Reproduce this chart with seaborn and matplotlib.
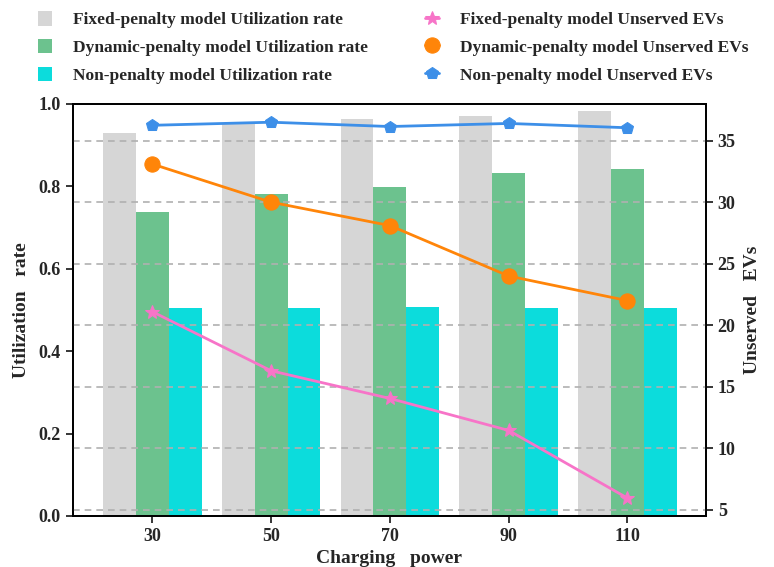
import numpy as np
import pandas as pd
import matplotlib
matplotlib.use("Agg")
import matplotlib.pyplot as plt
import seaborn as sns

powers = ["30", "50", "70", "90", "110"]
fixed_util = [0.930, 0.951, 0.963, 0.971, 0.983]
dynamic_util = [0.737, 0.782, 0.799, 0.833, 0.842]
non_util = [0.505, 0.505, 0.508, 0.504, 0.505]

fixed_unserved = [21.1, 16.3, 14.05, 11.45, 5.95]
dynamic_unserved = [33.1, 30.0, 28.1, 24.0, 22.0]
non_unserved = [36.25, 36.5, 36.15, 36.4, 36.05]

bar_names = ["Fixed-penalty model Utilization rate",
             "Dynamic-penalty model Utilization rate",
             "Non-penalty model Utilization rate"]
line_names = ["Fixed-penalty model Unserved EVs",
              "Dynamic-penalty model Unserved EVs",
              "Non-penalty model Unserved EVs"]

sns.set_style("ticks")
plt.rcParams['font.family'] = ['Liberation Serif', 'DejaVu Serif']
plt.rcParams['font.weight'] = 'bold'

df = pd.DataFrame({
    "power": powers * 3,
    "util": fixed_util + dynamic_util + non_util,
    "model": [bar_names[0]] * 5 + [bar_names[1]] * 5 + [bar_names[2]] * 5,
})

fig = plt.figure(figsize=(7.74, 5.67), dpi=100)
ax = fig.add_axes([0.094, 0.09, 0.818, 0.727])

bar_colors = ["#d6d6d6", "#6cc28e", "#0cdcdc"]
sns.barplot(data=df, x="power", y="util", hue="model", order=powers,
            hue_order=bar_names, palette=bar_colors, width=0.83,
            saturation=1, ax=ax, legend=True, linewidth=0)
ax.set_ylim(0, 1.0)
ax.set_xlim(-0.67, 4.66)
ax.set_yticks([0.0, 0.2, 0.4, 0.6, 0.8, 1.0])
ax.set_yticklabels(["0.0", "0.2", "0.4", "0.6", "0.8", "1.0"])
ax.set_xlabel("Charging   power", fontsize=14, fontweight='bold', labelpad=4)
ax.set_ylabel("Utilization   rate", fontsize=14, fontweight='bold', labelpad=6)
ax.tick_params(axis='both', labelsize=13, width=1.3, length=5)
for s in ax.spines.values():
    s.set_linewidth(1.3)
    s.set_color("black")
for lab in ax.get_xticklabels() + ax.get_yticklabels():
    lab.set_fontweight('bold')

ax2 = ax.twinx()
xs = np.arange(len(powers))
line_colors = ["#f774c8", "#ff8509", "#3d8fe8"]
markers = ["*", "o", "p"]
msizes = [10, 11, 9]
series = [fixed_unserved, dynamic_unserved, non_unserved]
for name, vals, c, m, ms in zip(line_names, series, line_colors, markers, msizes):
    sns.lineplot(x=xs, y=vals, color=c, marker=m, markersize=ms,
                 markeredgecolor=c, linewidth=2, ax=ax2, label=name)
ax2.set_ylim(4.5, 38)
ax2.set_yticks([5, 10, 15, 20, 25, 30, 35])
ax2.set_ylabel("Unserved   EVs", fontsize=14, fontweight='bold', labelpad=6)
ax2.tick_params(axis='y', labelsize=13, width=1.3, length=5)
for lab in ax2.get_yticklabels():
    lab.set_fontweight('bold')
ax2.grid(axis='y', linestyle=(0, (4, 3)), color="#b0b0b0", linewidth=1.2)
for s in ax2.spines.values():
    s.set_linewidth(1.3)
    s.set_color("black")
ax.set_xlim(-0.67, 4.66)

h1, l1 = ax.get_legend_handles_labels()
h2, l2 = ax2.get_legend_handles_labels()
ax.get_legend().remove()
ax2.get_legend().remove()
fig.legend(h1 + h2, l1 + l2, ncol=2, loc="upper left",
           bbox_to_anchor=(0.035, 1.0), frameon=False,
           prop={'size': 12.5, 'weight': 'bold'}, handlelength=0.8,
           handleheight=0.9, columnspacing=3.3, labelspacing=0.6,
           handletextpad=1.2, borderaxespad=0.25)

fig.savefig("out.png", dpi=100)
